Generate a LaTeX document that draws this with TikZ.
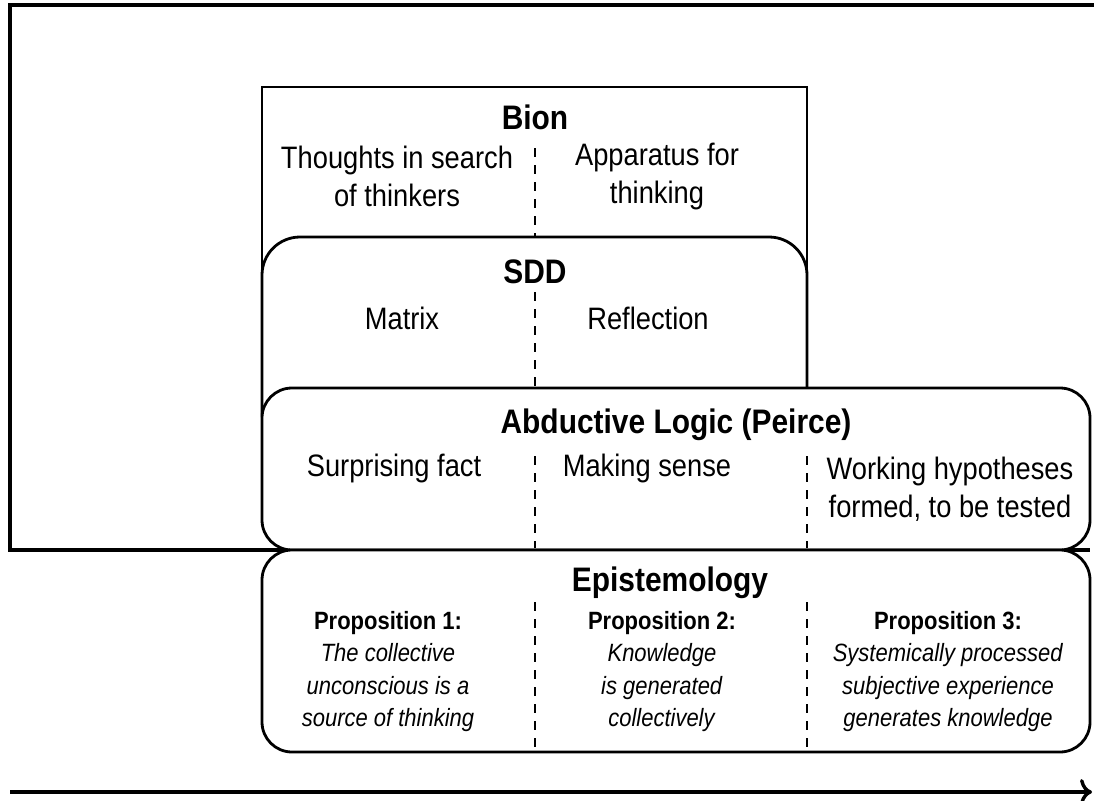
\documentclass[tikz,border=0pt]{standalone}
\usepackage{fontspec}
\setmainfont{Liberation Sans}[FakeStretch=0.88]
\usetikzlibrary{arrows.meta}
\begin{document}
\begin{tikzpicture}[x=1pt,y=-1pt,
  box/.style={draw, line width=2.8pt, fill=white, inner sep=0pt},
  ttl/.style={font=\fontsize{34}{38}\selectfont\bfseries, inner sep=0pt},
  txt/.style={font=\fontsize{31}{38}\selectfont, align=center, inner sep=0pt},
  prop/.style={font=\fontsize{25}{32.5}\selectfont, align=center, inner sep=0pt},
  sep/.style={line width=2pt, dash pattern=on 9pt off 8pt}]
\useasboundingbox (0,0) rectangle (1094,800);
% outer frame
\coordinate (o1) at (1094,5);
\coordinate (o2) at (10,5);
\coordinate (o3) at (10,550);
\coordinate (o4) at (1090,550);
\draw[line width=3.4pt] (o1) -- (o2) -- (o3) -- (o4);
% boxes
\node[box, minimum width=545pt, minimum height=363pt] (bion) at (534.5,268.5) {};
\node[box, rounded corners=38pt, minimum width=545pt, minimum height=213pt] (sdd) at (534.5,343.5) {};
\node[box, rounded corners=30pt, minimum width=828pt, minimum height=162pt] (abd) at (676,469) {};
\node[box, rounded corners=30pt, minimum width=828pt, minimum height=202pt] (epi) at (676,651) {};
% dividers
\coordinate (b1) at (535,148); \coordinate (b2) at (535,237);
\draw[sep] (b1) -- (b2);
\coordinate (s1) at (535,292); \coordinate (s2) at (535,388);
\draw[sep] (s1) -- (s2);
\coordinate (a1) at (535,456); \coordinate (a2) at (535,548);
\coordinate (a3) at (807,456); \coordinate (a4) at (807,548);
\draw[sep] (a1) -- (a2);
\draw[sep] (a3) -- (a4);
\coordinate (e1) at (535,602); \coordinate (e2) at (535,752);
\coordinate (e3) at (807,602); \coordinate (e4) at (807,752);
\draw[sep] (e1) -- (e2);
\draw[sep] (e3) -- (e4);
% texts
\node[ttl] (tbion) at (535,117) {Bion};
\node[txt] (bl) at (397,176) {Thoughts in search\\of thinkers};
\node[txt] (br) at (657,176) {Apparatus for\\thinking};
\node[ttl] (tsdd) at (535,272) {SDD};
\node[txt] (sl) at (402,318) {Matrix};
\node[txt] (sr) at (648,318) {Reflection};
\node[ttl] (tabd) at (676,425) {Abductive Logic (Peirce)};
\node[txt] (al) at (394,468) {Surprising fact};
\node[txt] (am) at (647,468) {Making sense};
\node[txt] (ar) at (950,489) {Working hypotheses\\formed, to be tested};
\node[ttl] (tepi) at (670,583) {Epistemology};
\node[prop] (p1) at (388,671.5) {\textbf{Proposition 1:}\\\textit{The collective}\\\textit{unconscious is a}\\\textit{source of thinking}};
\node[prop] (p2) at (662,671.5) {\textbf{Proposition 2:}\\\textit{Knowledge}\\\textit{is generated}\\\textit{collectively}};
\node[prop] (p3) at (948,671.5) {\textbf{Proposition 3:}\\\textit{Systemically processed}\\\textit{subjective experience}\\\textit{generates knowledge}};
% timeline arrow
\coordinate (t1) at (10,792);
\coordinate (t2) at (1092,792);
\draw[line width=4pt, -{To[length=12pt,width=26pt,line width=3.4pt]}] (t1) -- (t2);
\end{tikzpicture}
\end{document}
